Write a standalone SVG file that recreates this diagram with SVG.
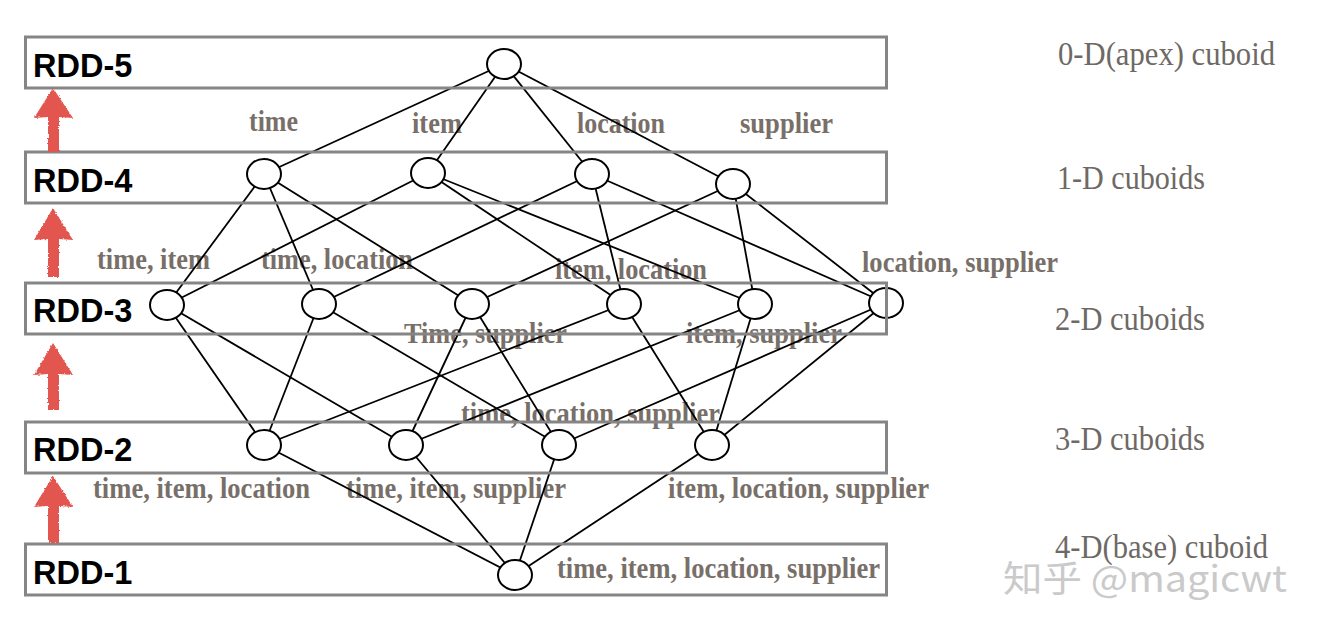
<svg xmlns="http://www.w3.org/2000/svg" width="1319" height="638" viewBox="0 0 1319 638">
<style>
.lbl{font-family:"Liberation Serif","Times New Roman",serif;font-weight:bold;font-size:30px;fill:#786f69}
.dim{font-family:"Liberation Serif","Times New Roman",serif;font-size:34px;fill:#6e6964}
.rdd{font-family:"Liberation Sans",Arial,sans-serif;font-weight:bold;font-size:32.5px;fill:#000}
.band{fill:none;stroke:#858585;stroke-width:3}
.edge{stroke:#000;stroke-width:1.8;fill:none}
.node{fill:#fff;stroke:#000;stroke-width:2}
.arrow{fill:#e2574f}
.wm{font-family:"Noto Sans CJK SC","Noto Sans",sans-serif;font-size:36px;fill:#cacaca}
</style>
<defs>
<filter id="rough" x="-20%" y="-20%" width="140%" height="140%">
<feTurbulence type="fractalNoise" baseFrequency="0.6" numOctaves="2" seed="3" result="n"/>
<feDisplacementMap in="SourceGraphic" in2="n" scale="3" xChannelSelector="R" yChannelSelector="G"/>
</filter>
</defs>
<rect width="1319" height="638" fill="#fff"/>

<g id="labels">
<text class="lbl" x="249" y="131" textLength="49" lengthAdjust="spacingAndGlyphs">time</text>
<text class="lbl" x="412" y="133" textLength="50" lengthAdjust="spacingAndGlyphs">item</text>
<text class="lbl" x="577" y="133" textLength="88" lengthAdjust="spacingAndGlyphs">location</text>
<text class="lbl" x="740" y="133" textLength="93" lengthAdjust="spacingAndGlyphs">supplier</text>
<text class="lbl" x="97" y="269" textLength="113" lengthAdjust="spacingAndGlyphs">time, item</text>
<text class="lbl" x="261" y="269" textLength="152" lengthAdjust="spacingAndGlyphs">time, location</text>
<text class="lbl" x="555" y="279" textLength="152" lengthAdjust="spacingAndGlyphs">item, location</text>
<text class="lbl" x="862" y="272" textLength="196" lengthAdjust="spacingAndGlyphs">location, supplier</text>
<text class="lbl" x="404" y="343" textLength="163" lengthAdjust="spacingAndGlyphs">Time, supplier</text>
<text class="lbl" x="686" y="343" textLength="156" lengthAdjust="spacingAndGlyphs">item, supplier</text>
<text class="lbl" x="461" y="423" textLength="259" lengthAdjust="spacingAndGlyphs">time, location, supplier</text>
<text class="lbl" x="93" y="498" textLength="217" lengthAdjust="spacingAndGlyphs">time, item, location</text>
<text class="lbl" x="346" y="498" textLength="220" lengthAdjust="spacingAndGlyphs">time, item, supplier</text>
<text class="lbl" x="668" y="498" textLength="261" lengthAdjust="spacingAndGlyphs">item, location, supplier</text>
<text class="lbl" x="557" y="578" textLength="323" lengthAdjust="spacingAndGlyphs">time, item, location, supplier</text>
</g>

<g id="dims">
<text class="dim" x="1058" y="65" textLength="217" lengthAdjust="spacingAndGlyphs">0-D(apex) cuboid</text>
<text class="dim" x="1057" y="189" textLength="148" lengthAdjust="spacingAndGlyphs">1-D cuboids</text>
<text class="dim" x="1055" y="330" textLength="150" lengthAdjust="spacingAndGlyphs">2-D cuboids</text>
<text class="dim" x="1055" y="450" textLength="150" lengthAdjust="spacingAndGlyphs">3-D cuboids</text>
<text class="dim" x="1055" y="558" textLength="213" lengthAdjust="spacingAndGlyphs">4-D(base) cuboid</text>
</g>

<g id="connectors">
<line class="edge" x1="504" y1="64" x2="264" y2="174"/>
<line class="edge" x1="504" y1="64" x2="428" y2="173"/>
<line class="edge" x1="504" y1="64" x2="592" y2="174"/>
<line class="edge" x1="504" y1="64" x2="733" y2="184"/>
<line class="edge" x1="264" y1="174" x2="167" y2="305"/>
<line class="edge" x1="264" y1="174" x2="319" y2="304"/>
<line class="edge" x1="264" y1="174" x2="472" y2="304"/>
<line class="edge" x1="428" y1="173" x2="167" y2="305"/>
<line class="edge" x1="428" y1="173" x2="624" y2="304"/>
<line class="edge" x1="428" y1="173" x2="755" y2="304"/>
<line class="edge" x1="592" y1="174" x2="319" y2="304"/>
<line class="edge" x1="592" y1="174" x2="624" y2="304"/>
<line class="edge" x1="592" y1="174" x2="886" y2="303"/>
<line class="edge" x1="733" y1="184" x2="472" y2="304"/>
<line class="edge" x1="733" y1="184" x2="755" y2="304"/>
<line class="edge" x1="733" y1="184" x2="886" y2="303"/>
<line class="edge" x1="167" y1="305" x2="264" y2="445"/>
<line class="edge" x1="167" y1="305" x2="406" y2="445"/>
<line class="edge" x1="319" y1="304" x2="264" y2="445"/>
<line class="edge" x1="319" y1="304" x2="559" y2="445"/>
<line class="edge" x1="472" y1="304" x2="406" y2="445"/>
<line class="edge" x1="472" y1="304" x2="559" y2="445"/>
<line class="edge" x1="624" y1="304" x2="264" y2="445"/>
<line class="edge" x1="624" y1="304" x2="712" y2="445"/>
<line class="edge" x1="755" y1="304" x2="406" y2="445"/>
<line class="edge" x1="755" y1="304" x2="712" y2="445"/>
<line class="edge" x1="886" y1="303" x2="559" y2="445"/>
<line class="edge" x1="886" y1="303" x2="712" y2="445"/>
<line class="edge" x1="264" y1="445" x2="515" y2="575"/>
<line class="edge" x1="406" y1="445" x2="515" y2="575"/>
<line class="edge" x1="559" y1="445" x2="515" y2="575"/>
<line class="edge" x1="712" y1="445" x2="515" y2="575"/>
</g>

<g id="n-apex"><ellipse class="node" cx="504" cy="64" rx="17" ry="15"/></g>
<g id="n-time"><ellipse class="node" cx="264" cy="174" rx="17" ry="15"/></g>
<g id="n-item"><ellipse class="node" cx="428" cy="173" rx="17" ry="15"/></g>
<g id="n-location"><ellipse class="node" cx="592" cy="174" rx="17" ry="15"/></g>
<g id="n-supplier"><ellipse class="node" cx="733" cy="184" rx="17" ry="15"/></g>
<g id="n-time-item"><ellipse class="node" cx="167" cy="305" rx="17" ry="15"/></g>
<g id="n-time-location"><ellipse class="node" cx="319" cy="304" rx="17" ry="15"/></g>
<g id="n-time-supplier"><ellipse class="node" cx="472" cy="304" rx="17" ry="15"/></g>
<g id="n-item-location"><ellipse class="node" cx="624" cy="304" rx="17" ry="15"/></g>
<g id="n-item-supplier"><ellipse class="node" cx="755" cy="304" rx="17" ry="15"/></g>
<g id="n-location-supplier"><ellipse class="node" cx="886" cy="303" rx="17" ry="15"/></g>
<g id="n-til"><ellipse class="node" cx="264" cy="445" rx="17" ry="15"/></g>
<g id="n-tis"><ellipse class="node" cx="406" cy="445" rx="17" ry="15"/></g>
<g id="n-tls"><ellipse class="node" cx="559" cy="445" rx="17" ry="15"/></g>
<g id="n-ils"><ellipse class="node" cx="712" cy="445" rx="17" ry="15"/></g>
<g id="n-base"><ellipse class="node" cx="515" cy="575" rx="17" ry="15"/></g>

<g id="rdd5"><rect class="band" x="25.5" y="37" width="861" height="51"/><text class="rdd" x="33" y="77">RDD-5</text></g>
<g id="rdd4"><rect class="band" x="25.5" y="152" width="861" height="51"/><text class="rdd" x="33" y="192">RDD-4</text></g>
<g id="rdd3"><rect class="band" x="25.5" y="283" width="861" height="51"/><text class="rdd" x="33" y="322">RDD-3</text></g>
<g id="rdd2"><rect class="band" x="25.5" y="422" width="861" height="51"/><text class="rdd" x="33" y="461">RDD-2</text></g>
<g id="rdd1"><rect class="band" x="25.5" y="544" width="861" height="51"/><text class="rdd" x="33" y="584">RDD-1</text></g>

<g id="arrows" filter="url(#rough)">
<polygon class="arrow" points="53,88 73,118 59,117 59,152 48,152 48,117 34,118"/>
<polygon class="arrow" points="53,208 73,240 59,239 59,277 48,277 48,239 34,240"/>
<polygon class="arrow" points="53,343 73,375 59,374 59,410 48,410 48,374 34,375"/>
<polygon class="arrow" points="53,476 73,507 59,506 59,543 48,543 48,506 34,507"/>
</g>

<text class="wm" x="1003" y="592" textLength="284" lengthAdjust="spacingAndGlyphs">知乎 @magicwt</text>
</svg>
